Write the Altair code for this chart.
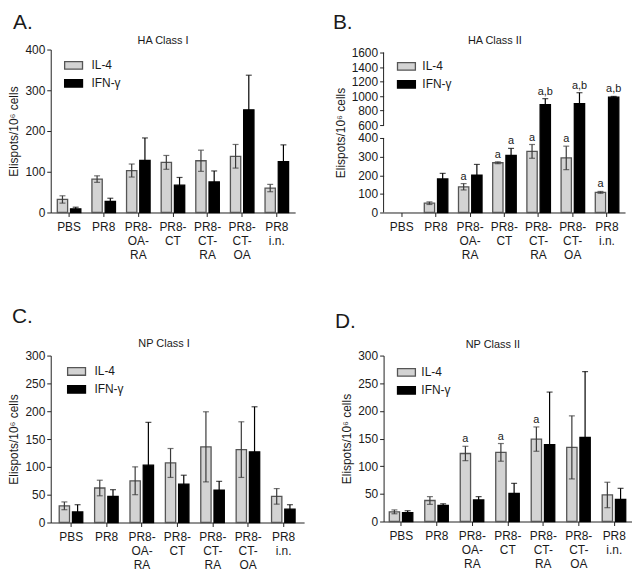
import altair as alt
import pandas as pd

FONT = "Liberation Sans, Arial, Helvetica, sans-serif"

categories = ["PBS", "PR8", "PR8-|OA-|RA", "PR8-|CT", "PR8-|CT-|RA", "PR8-|CT-|OA", "PR8|i.n."]
cytokines = ["IL-4", "IFN-γ"]

# Panel A: HA Class I
a_il4 = [32, 82, 103, 123, 127, 138, 60]
a_il4_err = [9, 8, 16, 17, 26, 29, 9]
a_ifn = [9, 27, 128, 67, 75, 252, 125]
a_ifn_err = [4, 8, 55, 19, 27, 85, 41]

# Panel B: HA Class II
b_il4 = [0, 50, 138, 267, 328, 293, 108]
b_il4_err = [0, 7, 17, 5, 37, 63, 5]
b_ifn = [0, 180, 200, 306, 882, 896, 985]
b_ifn_err = [0, 30, 58, 38, 82, 150, 10]
b_il4_sig = ["", "", "a", "a", "a", "a", "a"]
b_ifn_sig = ["", "", "", "a", "a,b", "a,b", "a,b"]

# Panel C: NP Class I
c_il4 = [30, 62, 75, 107, 136, 131, 47]
c_il4_err = [7, 14, 25, 26, 63, 50, 14]
c_ifn = [19, 47, 103, 69, 58, 127, 24]
c_ifn_err = [13, 12, 77, 16, 16, 81, 8]

# Panel D: NP Class II
d_il4 = [17.5, 38, 123, 125, 149, 134, 48]
d_il4_err = [3.5, 7, 13, 16, 22, 57, 23]
d_ifn = [16, 29, 39, 51, 139, 152, 40]
d_ifn_err = [3.5, 3, 6, 18, 95, 119, 20]
d_il4_sig = ["", "", "a", "a", "a", "", ""]

# broken axis segments for panel B
b_seg_lo = [0, 600]
b_seg_hi = [400, 1600]

YTITLE = "Elispots/10⁶ cells"
empty = [""] * 7


def make_df(il4, il4_err, ifn, ifn_err, il4_sig=empty, ifn_sig=empty):
    rows = []
    for i, c in enumerate(categories):
        rows.append(dict(group=c, cytokine="IL-4", value=il4[i], err=il4_err[i], sig=il4_sig[i]))
        rows.append(dict(group=c, cytokine="IFN-γ", value=ifn[i], err=ifn_err[i], sig=ifn_sig[i]))
    df = pd.DataFrame(rows)
    df["lo"] = df["value"] - df["err"]
    df["hi"] = df["value"] + df["err"]
    return df


def panel(df, cfg, yscale, yaxis, segments=None, anchor=False):
    x = alt.X("group:N", sort=categories,
              scale=alt.Scale(domain=categories, paddingInner=0.32, paddingOuter=cfg["po"]),
              axis=alt.Axis(title=None, labelExpr="split(datum.label, '|')", labelAngle=0,
                            labelLineHeight=14, labelPadding=5, tickSize=4))
    xo = alt.XOffset("cytokine:N", sort=cytokines,
                     scale=alt.Scale(domain=cytokines, paddingInner=0.22))

    def Y(field):
        return alt.Y(field, scale=yscale, axis=yaxis, title=YTITLE)

    base = alt.Chart(df).transform_filter("datum.value > 0")
    leg = alt.Legend(title=None, orient="none", legendX=cfg["legX"], legendY=cfg["legY"],
                     labelOffset=cfg["labOff"])
    bars = base.mark_bar(strokeWidth=1.3).encode(
        x=x, xOffset=xo, y=Y("value:Q"),
        fill=alt.Fill("cytokine:N", sort=cytokines,
                      scale=alt.Scale(domain=cytokines, range=["#d3d3d3", "#000000"]), legend=leg),
        stroke=alt.Stroke("cytokine:N", sort=cytokines,
                          scale=alt.Scale(domain=cytokines, range=["#555555", "#000000"]), legend=leg),
    )
    ecol = alt.Color("cytokine:N", sort=cytokines,
                     scale=alt.Scale(domain=cytokines, range=["#3a3a3a", "#000000"]), legend=None)
    rules = base.mark_rule(strokeWidth=1.2).encode(x=x, xOffset=xo, y=Y("lo:Q"), y2="hi:Q", color=ecol)
    cap_hi = base.mark_tick(size=6, thickness=1.2).encode(x=x, xOffset=xo, y=Y("hi:Q"), color=ecol)
    cap_lo = base.mark_tick(size=6, thickness=1.2).encode(x=x, xOffset=xo, y=Y("lo:Q"), color=ecol)
    sig = base.mark_text(dy=-4, baseline="alphabetic", fontSize=11, font=FONT, color="#1a1a1a").encode(
        x=x, xOffset=xo, y=Y("hi:Q"), text="sig:N")
    labels = alt.Chart(pd.DataFrame({"t": [cfg["letter"]]}))
    letter = labels.mark_text(
        align="left", baseline="alphabetic", fontSize=21, font=FONT, color="#1a1a1a").encode(
        text="t:N", x=alt.value(cfg["letX"]), y=alt.value(cfg["letY"]))
    title = alt.Chart(pd.DataFrame({"t": [cfg["title"]]})).mark_text(
        align="center", baseline="alphabetic", fontSize=11, font=FONT, color="#1a1a1a").encode(
        text="t:N", x=alt.value(cfg["titleX"]), y=alt.value(cfg["titleY"]))
    layers = [bars, rules, cap_hi, cap_lo, sig, letter, title]
    if segments is not None:
        seg = alt.Chart(segments).mark_rule(color="#222222", strokeWidth=1).encode(
            x=alt.value(0), y=Y("lo:Q"), y2="hi:Q")
        layers.append(seg)
    if anchor:
        # invisible layout anchor fixing the top-left extent of the whole figure
        anc = labels.mark_rule(opacity=0, strokeWidth=1).encode(
            x=alt.value(-60), y=alt.value(-50), y2=alt.value(-49))
        layers.append(anc)
    return alt.layer(*layers).properties(width=cfg["width"], height=cfg["height"])


cfgA = dict(width=246, height=164, po=0.19, letter="A.", title="HA Class I",
            letX=-38, letY=-20.5, titleX=113, titleY=-5.7, legX=13, legY=6, labOff=8)
cfgB = dict(width=243, height=164, po=0.19, letter="B.", title="HA Class II",
            letX=-51, letY=-20.5, titleX=112, titleY=-5.7, legX=13, legY=7, labOff=6)
cfgC = dict(width=255, height=168, po=0.24, letter="C.", title="NP Class I",
            letX=-39, letY=-33, titleX=114, titleY=-9, legX=16, legY=6, labOff=8)
cfgD = dict(width=250, height=167, po=0.16, letter="D.", title="NP Class II",
            letX=-49, letY=-28, titleX=110, titleY=-8, legX=13, legY=7, labOff=5)

axisA = alt.Axis(values=[0, 100, 200, 300, 400], titlePadding=4, format="d")
axisB = alt.Axis(values=[0, 100, 200, 300, 400, 600, 800, 1000, 1200, 1400, 1600],
                 titlePadding=4, domain=False, format="d")
axisCD = alt.Axis(values=[0, 50, 100, 150, 200, 250, 300], titlePadding=4, format="d")

pA = panel(make_df(a_il4, a_il4_err, a_ifn, a_ifn_err), cfgA,
           alt.Scale(domain=[0, 400], nice=False, zero=False), axisA, anchor=True)
pB = panel(make_df(b_il4, b_il4_err, b_ifn, b_ifn_err, b_il4_sig, b_ifn_sig), cfgB,
           alt.Scale(domain=[0, 400, 600, 1600], range=[164, 89, 76, 3], nice=False, zero=False),
           axisB, segments=pd.DataFrame({"lo": b_seg_lo, "hi": b_seg_hi}))
pC = panel(make_df(c_il4, c_il4_err, c_ifn, c_ifn_err), cfgC,
           alt.Scale(domain=[0, 300], nice=False, zero=False), axisCD)
pD = panel(make_df(d_il4, d_il4_err, d_ifn, d_ifn_err, d_il4_sig), cfgD,
           alt.Scale(domain=[0, 300], nice=False, zero=False), axisCD)

chart = alt.concat(pA, pB, pC, pD, columns=2, spacing={"row": 144, "column": 80},
                   bounds="flush", align="each").resolve_scale(
    fill="independent", stroke="independent", color="independent", y="independent", x="independent"
).properties(padding={"left": -17, "top": -10, "right": 0, "bottom": 0}).configure_view(
    strokeWidth=0
).configure_axis(
    labelFont=FONT, labelFontSize=12, labelColor="#1a1a1a", domainColor="#222222",
    tickColor="#222222", grid=False, titleFont=FONT, titleFontSize=12, titleFontWeight="normal",
    titleColor="#1a1a1a", tickSize=4, labelPadding=2, domainWidth=1, tickWidth=1
).configure_legend(
    labelFont=FONT, labelFontSize=12, labelColor="#1a1a1a", padding=0, rowPadding=1,
    symbolType="M-1,-0.42L1,-0.42L1,0.42L-1,0.42Z", symbolSize=324, symbolStrokeWidth=1.3
)

chart.save("out.html", embed_options={"renderer": "svg", "actions": False})
